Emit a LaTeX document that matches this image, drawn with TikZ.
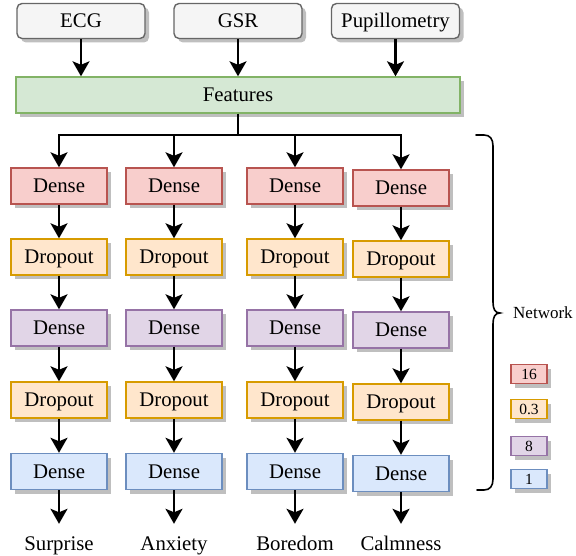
\documentclass[tikz,border=0pt]{standalone}
\usepackage{fontspec}
\setmainfont{Liberation Serif}
\newfontfamily\diagfont{Liberation Serif}
\usetikzlibrary{arrows.meta,shadows}

\definecolor{inFill}{HTML}{F5F5F5}
\definecolor{inLine}{HTML}{666666}
\definecolor{featFill}{HTML}{D5E8D4}
\definecolor{featLine}{HTML}{82B366}
\definecolor{redFill}{HTML}{F8CECC}
\definecolor{redLine}{HTML}{B85450}
\definecolor{orFill}{HTML}{FFE6CC}
\definecolor{orLine}{HTML}{D79B00}
\definecolor{puFill}{HTML}{E1D5E7}
\definecolor{puLine}{HTML}{9673A6}
\definecolor{blFill}{HTML}{DAE8FC}
\definecolor{blLine}{HTML}{6C8EBF}
\definecolor{shGray}{HTML}{BFBFBF}

\tikzset{
  shade box/.style={drop shadow={shadow xshift=4pt,shadow yshift=-4pt,fill=shGray,opacity=1}},
  basebox/.style={shade box, line width=1.4pt, inner sep=0pt,
    font=\diagfont\fontsize{20.8}{24}\selectfont, text height=13.8pt, text depth=0pt},
  inbox/.style={basebox, draw=inLine, fill=inFill, rounded corners=5pt,
    minimum width=128pt, minimum height=35pt},
  featbox/.style={basebox, draw=featLine, fill=featFill,
    minimum width=444pt, minimum height=36pt},
  layer/.style={basebox, minimum width=96pt, minimum height=36pt},
  redbox/.style={layer, draw=redLine, fill=redFill},
  orbox/.style={layer, draw=orLine, fill=orFill},
  pubox/.style={layer, draw=puLine, fill=puFill},
  blbox/.style={layer, draw=blLine, fill=blFill},
  legbox/.style={shade box, line width=1.3pt, inner sep=0pt,
    minimum width=36pt, minimum height=19pt,
    font=\diagfont\fontsize{15.5}{18}\selectfont, text height=10.5pt, text depth=0pt},
  outlbl/.style={anchor=base, inner xsep=0pt, inner ysep=12pt,
    font=\diagfont\fontsize{20.8}{24}\selectfont, text height=14pt},
  arr/.style={draw, line width=2.1pt,
    -{Stealth[length=15pt,width=17pt,inset=3.5pt]}},
  plainline/.style={draw, line width=2.1pt},
  bracestyle/.style={draw, line width=1.6pt, line cap=round},
}

\begin{document}
\begin{tikzpicture}[x=1pt,y=-1pt]
\useasboundingbox (0,0) rectangle (576,556);

% sensor inputs
\node[inbox] (ecg) at (81,21) {ECG};
\node[inbox] (gsr) at (238,21) {GSR};
\node[inbox] (pup) at (395.5,21) {Pupillometry};

% merged feature vector
\node[featbox] (feat) at (238,95) {Features};

\draw[arr] (ecg.south) -- (ecg.south |- feat.north);
\draw[arr] (gsr.south) -- (gsr.south |- feat.north);
\draw[arr] (pup.south) -- (pup.south |- feat.north);

% one stack of layers per target emotion
\foreach \c/\x/\dy/\lab in {1/59/0/Surprise, 2/174/0/Anxiety, 3/295/0/Boredom, 4/401/2/Calmness}{
  \node[redbox] (n\c1) at (\x,186+\dy) {Dense};
  \node[orbox]  (n\c2) at (\x,257+\dy) {Dropout};
  \node[pubox]  (n\c3) at (\x,328+\dy) {Dense};
  \node[orbox]  (n\c4) at (\x,400+\dy) {Dropout};
  \node[blbox]  (n\c5) at (\x,471.5+\dy) {Dense};
  \node[outlbl] (o\c) at (\x,550) {\lab};
  \foreach \a/\b in {1/2,2/3,3/4,4/5}{
    \draw[arr] (n\c\a) -- (n\c\b);
  }
  \draw[arr] (n\c5) -- (o\c.north);
}

% fan-out from the feature vector
\coordinate (split) at (238,135);
\draw[plainline] (feat.south) -- (split);
\foreach \c in {1,...,4}{
  \draw[arr] (split) -| (n\c1.north);
}

% brace grouping the network
\draw[bracestyle] (476,135) -- (484,135)
  .. controls (490,135) and (493,139) .. (493,146) -- (493,302)
  .. controls (493,309) and (495,313) .. (500,313)
  .. controls (495,313) and (493,317) .. (493,324) -- (493,479)
  .. controls (493,486) and (490,490) .. (484,490) -- (477,490);
\node[anchor=west, inner sep=0pt, font=\diagfont\fontsize{17}{20}\selectfont] (net) at (513,313) {Network};

% layer parameter legend
\node[legbox, draw=redLine, fill=redFill] (lg1) at (529,374) {16};
\node[legbox, draw=orLine, fill=orFill] (lg2) at (529,409) {0.3};
\node[legbox, draw=puLine, fill=puFill] (lg3) at (529,446) {8};
\node[legbox, draw=blLine, fill=blFill] (lg4) at (529,479) {1};
\end{tikzpicture}
\end{document}
